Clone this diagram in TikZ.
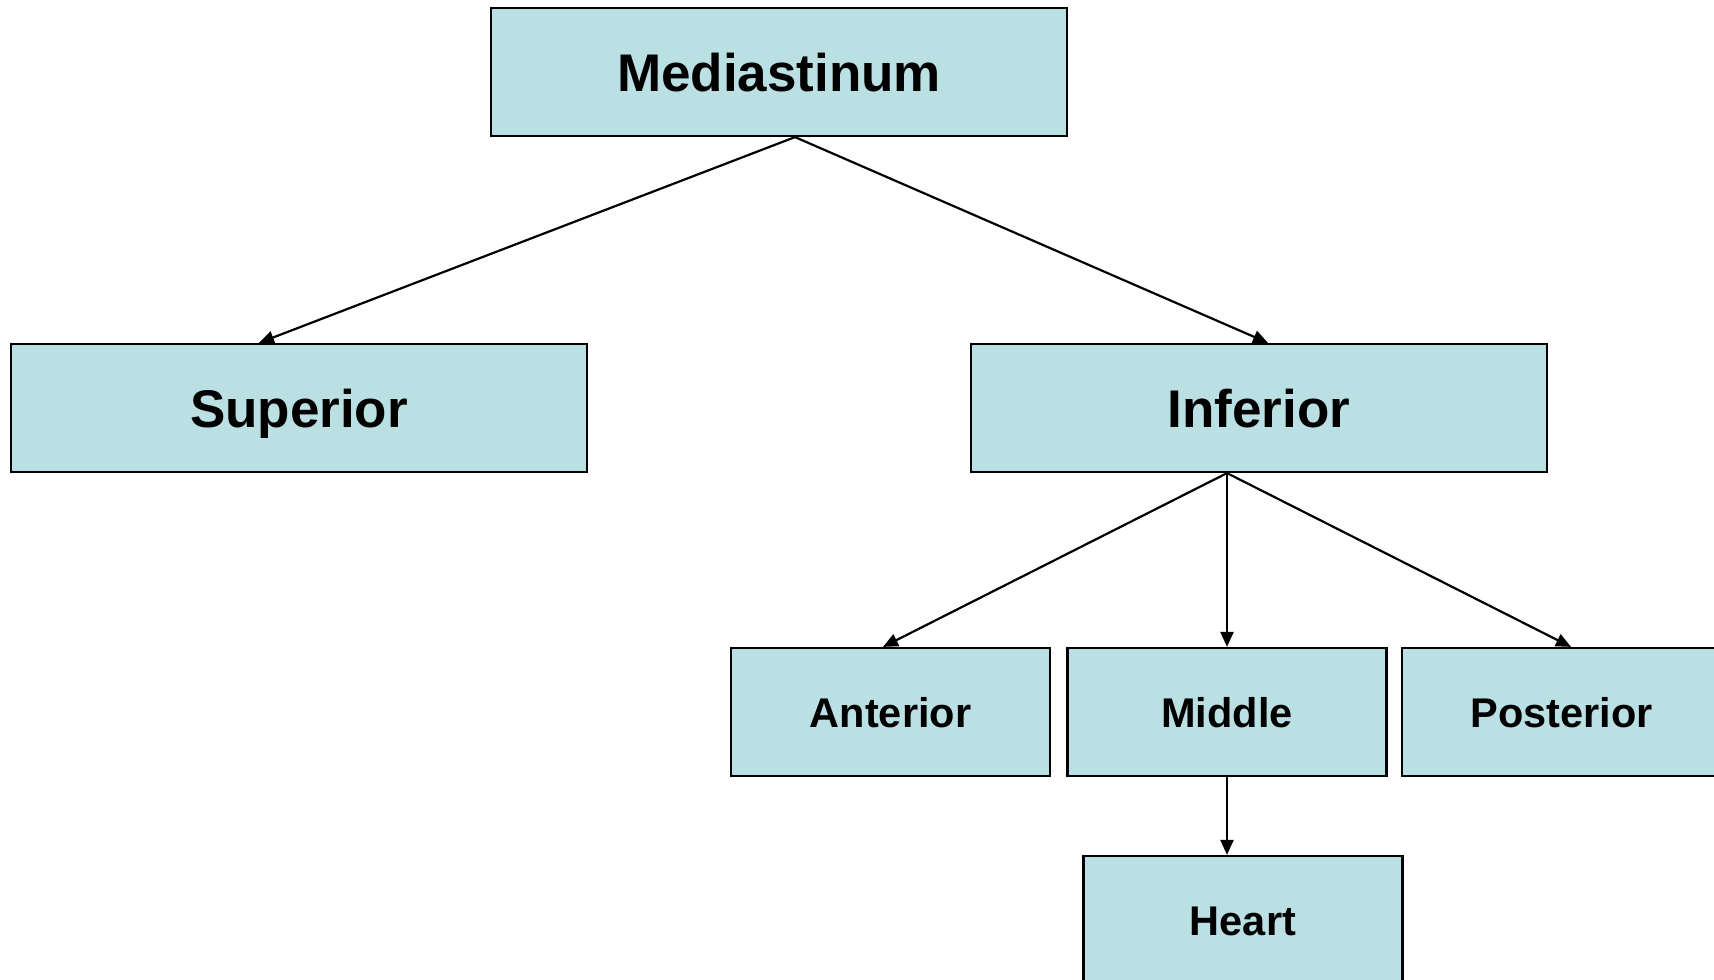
\documentclass[tikz,border=0pt]{standalone}
\usepackage{fontspec}
\setmainfont{Liberation Sans}
\usetikzlibrary{arrows.meta}
\definecolor{boxfill}{RGB}{187,224,227}
\tikzset{
  box/.style={draw=black, line width=2.2pt, fill=boxfill, rectangle, inner sep=0pt, anchor=center, text depth=0pt},
  bigbox/.style={box, minimum width=576pt, minimum height=128pt, text height=38pt, font=\fontsize{53}{60}\selectfont\bfseries},
  smallbox/.style={box, minimum width=319pt, minimum height=128pt, text height=30pt, font=\fontsize{41.5}{48}\selectfont\bfseries},
  link/.style={line width=2.2pt, -{Triangle[length=15pt,width=13pt]}}
}
\begin{document}
\begin{tikzpicture}[x=1pt,y=-1pt]
\useasboundingbox (0,0) rectangle (1714,980);
\clip (0,0) rectangle (1714,980);
\fill[white] (0,0) rectangle (1714,980);
\node[bigbox] (med) at (779,72) {Mediastinum};
\node[bigbox] (sup) at (299,408) {Superior};
\node[bigbox] (inf) at (1259,408) {Inferior};
\node[smallbox] (ant) at (890.5,712) {Anterior};
\node[smallbox] (mid) at (1227,712) {Middle};
\node[smallbox] (pos) at (1561.5,712) {Posterior};
\node[smallbox] (hea) at (1243,920) {Heart};
\draw[link] ([xshift=16pt]med.south) -- ([xshift=-40pt]sup.north);
\draw[link] ([xshift=16pt]med.south) -- ([xshift=9pt]inf.north);
\draw[link] ([xshift=-32pt]inf.south) -- ([xshift=-7.5pt]ant.north);
\draw[link] ([xshift=-32pt]inf.south) -- (mid.north);
\draw[link] ([xshift=-32pt]inf.south) -- ([xshift=9.5pt]pos.north);
\draw[link] (mid.south) -- ([xshift=-16pt]hea.north);
\end{tikzpicture}
\end{document}
